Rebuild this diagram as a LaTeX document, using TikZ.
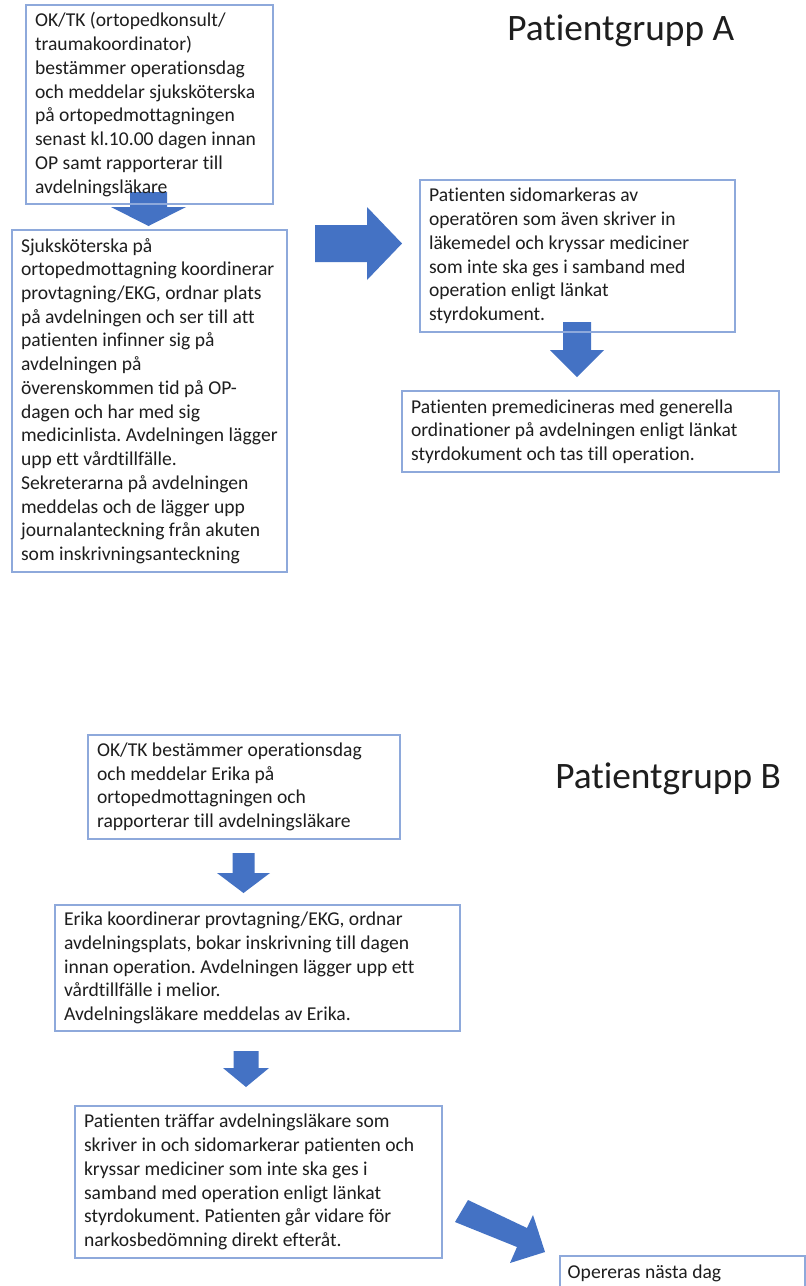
\documentclass[tikz,border=0pt]{standalone}
\usepackage{fontspec}
\setmainfont{Carlito}[Ligatures=NoCommon]
\frenchspacing
\definecolor{boxblue}{HTML}{8EA9DB}
\definecolor{arrowblue}{HTML}{4472C4}
\definecolor{textgray}{HTML}{1E1E1E}
\newcommand{\bkdown}[6]{%
  \fill[blk] ({#1-#3},#2) -- ({#1+#3},#2) -- ({#1+#3},#5) -- ({#1+#4},#5) -- (#1,#6) -- ({#1-#4},#5) -- ({#1-#3},#5) -- cycle;}
\begin{document}
\begin{tikzpicture}[x=0.75pt,y=-0.75pt,
  box/.style={draw=boxblue, line width=0.8pt, inner sep=0pt},
  txt/.style={anchor=west, align=left, inner sep=0pt, text=textgray,
    font=\fontsize{14.7pt}{17.8pt}\selectfont\frenchspacing},
  title/.style={anchor=base west, inner sep=0pt, text=textgray,
    font=\fontsize{28pt}{34pt}\selectfont},
  blk/.style={fill=arrowblue, draw=none}]
\useasboundingbox (0,0) rectangle (806,1286);
\fill[white] (0,0) rectangle (806,1286);

% ---- block arrows ----
\bkdown{148.5}{192}{18.5}{37.5}{207}{226}
\fill[blk] (315,225) -- (367,225) -- (367,207) -- (402,243.5) -- (367,280) -- (367,262) -- (315,262) -- cycle;
\bkdown{577}{322}{14}{27}{350}{377}
\bkdown{243.5}{853}{11}{26.5}{873}{893}
\bkdown{246}{1051}{12.5}{23}{1068}{1087}
\fill[blk] (468,1200) -- (527,1228) -- (533,1215) -- (545,1252) -- (510,1263) -- (517,1247) -- (455,1222) -- cycle;

% ---- titles ----
\node[title] (ta) at (507,40) {Patientgrupp A};
\node[title] (tb) at (555,788) {Patientgrupp B};

% ---- group A boxes ----
\node[box, minimum width=185.25pt, minimum height=149.25pt] (a1) at (149.5,104.5) {};
\node[txt] (a1t) at ([xshift=7pt]a1.west) {OK/TK (ortopedkonsult/\\traumakoordinator)\\bestämmer operationsdag\\och meddelar sjuksköterska\\på ortopedmottagningen\\senast kl.10.00 dagen innan\\OP samt rapporterar till\\avdelningsläkare};

\node[box, minimum width=206.25pt, minimum height=256.5pt] (a2) at (149.5,401) {};
\node[txt] (a2t) at ([xshift=7pt]a2.west) {Sjuksköterska på\\ortopedmottagning koordinerar\\provtagning/EKG, ordnar plats\\på avdelningen och ser till att\\patienten infinner sig på\\avdelningen på\\överenskommen tid på OP-\\dagen och har med sig\\medicinlista. Avdelningen lägger\\upp ett vårdtillfälle.\\Sekreterarna på avdelningen\\meddelas och de lägger upp\\journalanteckning från akuten\\som inskrivningsanteckning};

\node[box, minimum width=236.25pt, minimum height=114pt] (a3) at (577.5,256) {};
\node[txt] (a3t) at ([xshift=7pt]a3.west) {Patienten sidomarkeras av\\operatören som även skriver in\\läkemedel och kryssar mediciner\\som inte ska ges i samband med\\operation enligt länkat\\styrdokument.};

\node[box, minimum width=282.75pt, minimum height=60.75pt] (a4) at (590.5,431.5) {};
\node[txt] (a4t) at ([xshift=7pt]a4.west) {Patienten premedicineras med generella\\ordinationer på avdelningen enligt länkat\\styrdokument och tas till operation.};

% ---- group B boxes ----
\node[box, minimum width=234pt, minimum height=78pt] (b1) at (244,787) {};
\node[txt] (b1t) at ([xshift=7pt]b1.west) {OK/TK bestämmer operationsdag\\och meddelar Erika på\\ortopedmottagningen och\\rapporterar till avdelningsläkare};

\node[box, minimum width=303.75pt, minimum height=94.5pt] (b2) at (257.5,968) {};
\node[txt] (b2t) at ([xshift=7pt]b2.west) {Erika koordinerar provtagning/EKG, ordnar\\avdelningsplats, bokar inskrivning till dagen\\innan operation. Avdelningen lägger upp ett\\vårdtillfälle i melior.\\Avdelningsläkare meddelas av Erika.};

\node[box, minimum width=275.25pt, minimum height=114pt] (b3) at (258.5,1182) {};
\node[txt] (b3t) at ([xshift=7pt]b3.west) {Patienten träffar avdelningsläkare som\\skriver in och sidomarkerar patienten och\\kryssar mediciner som inte ska ges i\\samband med operation enligt länkat\\styrdokument. Patienten går vidare för\\narkosbedömning direkt efteråt.};

\node[box, minimum width=183.75pt, minimum height=25.5pt] (b4) at (682.5,1273) {};
\node[txt] (b4t) at ([xshift=6pt]b4.west) {Opereras nästa dag};
\end{tikzpicture}
\end{document}
